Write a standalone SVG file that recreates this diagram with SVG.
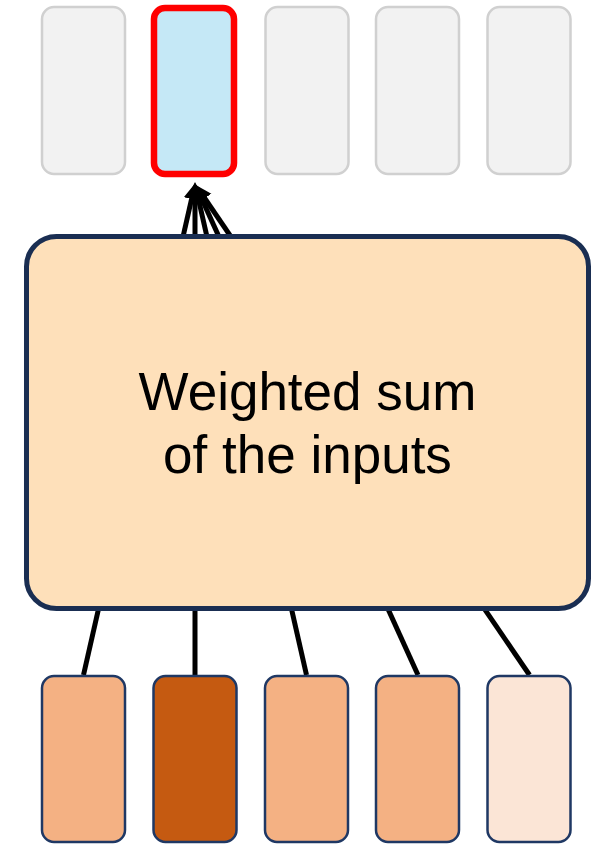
<svg xmlns="http://www.w3.org/2000/svg" width="595" height="845" viewBox="0 0 595 845">
<style>
.out{fill:#f2f2f2;stroke:#d0d0d0;stroke-width:2.5}
.sel{fill:#c5e8f6;stroke:#ff0000;stroke-width:6.5}
.in{stroke:#1f3864;stroke-width:2.5}
.conn{stroke:#000;stroke-width:5;fill:none;marker-end:url(#ah)}
.lbl{font-family:"Liberation Sans",Arial,sans-serif;font-size:53px;fill:#000;text-anchor:middle}
</style>
<defs>
<marker id="ah" markerUnits="userSpaceOnUse" markerWidth="18" markerHeight="18" viewBox="0 0 18 18" refX="4" refY="9" orient="auto">
<path d="M0,1 L16,9 L0,17 Z" fill="#000"/>
</marker>
</defs>
<g id="connectors">
<line class="conn" x1="83.5" y1="675" x2="192.5" y2="195"/>
<line class="conn" x1="195" y1="675" x2="195" y2="194"/>
<line class="conn" x1="306.5" y1="675" x2="197.5" y2="195"/>
<line class="conn" x1="418" y1="675" x2="200" y2="195"/>
<line class="conn" x1="529.5" y1="675" x2="202.5" y2="195"/>
</g>
<g id="out1"><rect class="out" x="42" y="7" width="83" height="167" rx="12"/></g>
<g id="out2"><rect class="sel" x="154" y="8" width="80" height="166" rx="11"/></g>
<g id="out3"><rect class="out" x="265.5" y="7" width="83" height="167" rx="12"/></g>
<g id="out4"><rect class="out" x="376" y="7" width="83" height="167" rx="12"/></g>
<g id="out5"><rect class="out" x="487.5" y="7" width="83" height="167" rx="12"/></g>
<g id="weighted-sum">
<rect x="26.5" y="236.5" width="562" height="372" rx="30" fill="#fee0ba" stroke="#1a2e52" stroke-width="5"/>
<text class="lbl" x="307.5" y="410">Weighted sum</text>
<text class="lbl" x="307.5" y="473">of the inputs</text>
</g>
<g id="in1"><rect class="in" x="42" y="676" width="83" height="166" rx="12" fill="#f4b183"/></g>
<g id="in2"><rect class="in" x="153.5" y="676" width="83" height="166" rx="12" fill="#c55a11"/></g>
<g id="in3"><rect class="in" x="265" y="676" width="83" height="166" rx="12" fill="#f4b183"/></g>
<g id="in4"><rect class="in" x="376" y="676" width="83" height="166" rx="12" fill="#f4b183"/></g>
<g id="in5"><rect class="in" x="487.5" y="676" width="83" height="166" rx="12" fill="#fbe5d6"/></g>
</svg>
